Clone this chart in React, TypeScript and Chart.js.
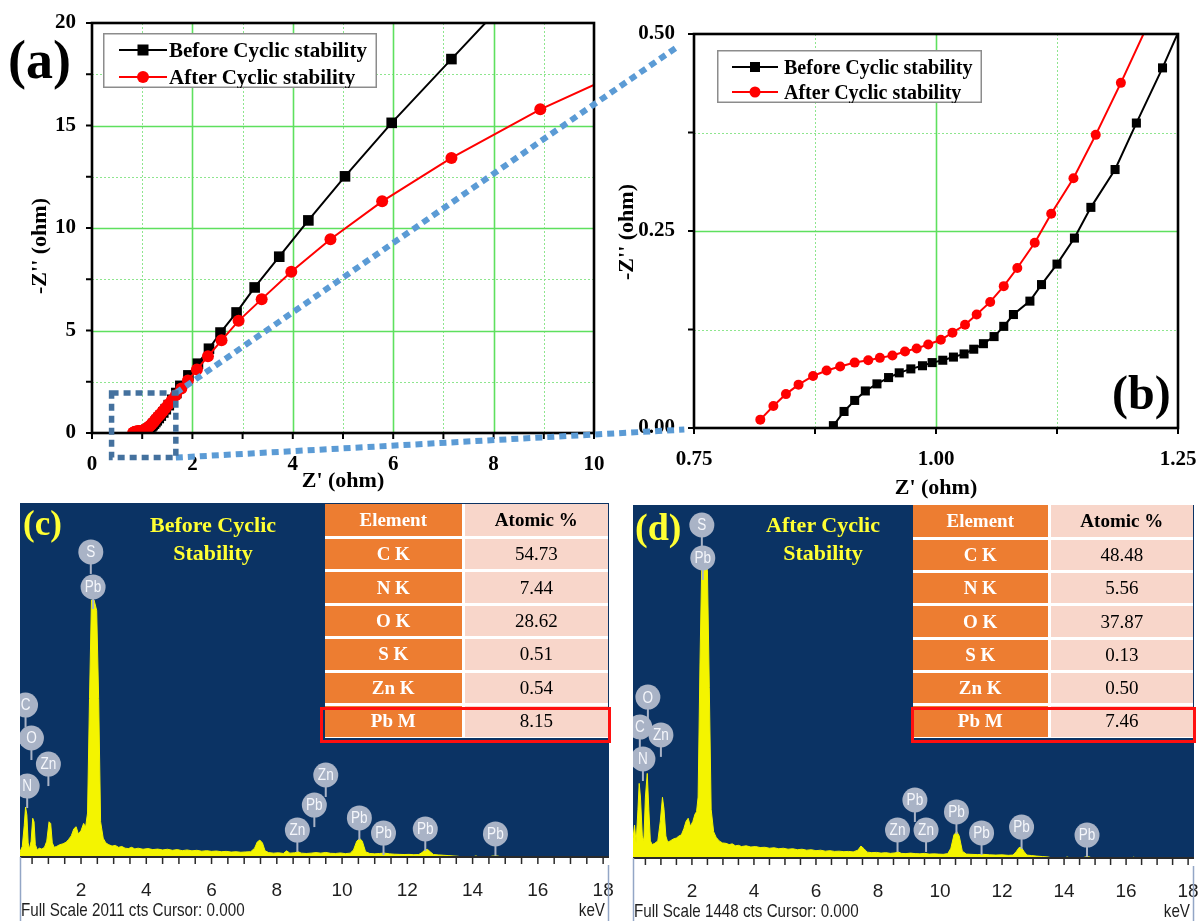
import React, { useEffect, useRef } from 'react';
import { Chart, registerables } from 'chart.js';

Chart.register(...registerables);

const SERIF = "'Liberation Serif', 'Times New Roman', serif";
const NARROW = "'Liberation Sans Narrow', 'Liberation Sans', 'Arial', sans-serif";

// ---------------- Nyquist (EIS) data ----------------
const seriesNames = ['Before Cyclic stability', 'After Cyclic stability'];

const beforeX = [0.894, 0.905, 0.916, 0.927, 0.939, 0.951, 0.962, 0.974, 0.986, 0.996, 1.007, 1.018, 1.029, 1.039, 1.049, 1.06, 1.07, 1.08, 1.097, 1.109, 1.125, 1.143, 1.16, 1.185, 1.207, 1.234, 1.262, 1.29, 1.33, 1.37, 1.42, 1.47, 1.53, 1.6, 1.68, 1.76, 1.92, 2.11, 2.33, 2.56, 2.88, 3.24, 3.73, 4.31, 5.04, 5.97, 7.16, 8.45];
const beforeY = [0.003, 0.021, 0.035, 0.047, 0.056, 0.064, 0.07, 0.075, 0.079, 0.083, 0.086, 0.09, 0.094, 0.1, 0.107, 0.116, 0.129, 0.144, 0.161, 0.182, 0.208, 0.241, 0.28, 0.328, 0.387, 0.457, 0.535, 0.62, 0.73, 0.85, 1.0, 1.16, 1.36, 1.62, 1.95, 2.3, 2.81, 3.38, 4.11, 4.9, 5.88, 7.1, 8.6, 10.37, 12.52, 15.13, 18.24, 21.6];

const afterX = [0.8185, 0.832, 0.845, 0.858, 0.873, 0.887, 0.901, 0.916, 0.93, 0.942, 0.955, 0.968, 0.98, 0.992, 1.005, 1.017, 1.03, 1.042, 1.056, 1.07, 1.084, 1.102, 1.119, 1.142, 1.165, 1.191, 1.22, 1.25, 1.28, 1.32, 1.36, 1.41, 1.46, 1.52, 1.59, 1.67, 1.78, 1.91, 2.09, 2.31, 2.58, 2.92, 3.38, 3.97, 4.75, 5.78, 7.16, 8.93, 11.0];
const afterY = [0.0106, 0.028, 0.043, 0.055, 0.066, 0.073, 0.078, 0.083, 0.086, 0.089, 0.092, 0.097, 0.101, 0.106, 0.112, 0.121, 0.131, 0.144, 0.16, 0.18, 0.203, 0.235, 0.272, 0.317, 0.372, 0.438, 0.515, 0.6, 0.69, 0.8, 0.92, 1.06, 1.21, 1.39, 1.6, 1.84, 2.17, 2.56, 3.1, 3.74, 4.52, 5.47, 6.53, 7.87, 9.45, 11.3, 13.42, 15.79, 18.1];

// panel (a) axes
const aXRange = [0, 10];
const aYRange = [0, 20];
const aXMajor = [2, 4, 6, 8];
const aXMinor = [1, 3, 5, 7, 9];
const aYMajor = [5, 10, 15];
const aYMinor = [2.5, 7.5, 12.5, 17.5];
const aXTickMarks = [0, 1, 2, 3, 4, 5, 6, 7, 8, 9, 10];
const aYTickMarks = [0, 2.5, 5, 7.5, 10, 12.5, 15, 17.5, 20];

// panel (b) axes
const bXRange = [0.75, 1.25];
const bYRange = [0, 0.5];
const bXMajor = [1.0];
const bXMinor = [0.875, 1.125];
const bYMajor = [0.25];
const bYMinor = [0.125, 0.375];
const bXTickMarks = [0.75, 0.875, 1.0, 1.125, 1.25];
const bYTickMarks = [0, 0.125, 0.25, 0.375, 0.5];

// zoom box in (a) data units and connector targets in (b) data units
const zoomBoxX = [0.39, 1.67];
const zoomBoxY = [-1.2, 1.95];
const connectTopB = [0.7327, 0.4836];
const connectBottomB = [0.74, -0.002];

// ---------------- EDS spectra ----------------
const edsBeforeKeV = [0.13, 0.2, 0.26, 0.3, 0.34, 0.38, 0.42, 0.47, 0.52, 0.56, 0.6, 0.66, 0.72, 0.8, 0.88, 0.95, 1.02, 1.07, 1.12, 1.18, 1.25, 1.35, 1.45, 1.55, 1.62, 1.7, 1.78, 1.85, 1.92, 2.0, 2.08, 2.14, 2.2, 2.26, 2.32, 2.4, 2.48, 2.54, 2.6, 2.68, 2.76, 2.85, 2.95, 3.05, 3.15, 3.25, 3.35, 3.45, 3.55, 3.65, 3.75, 3.9, 4.05, 4.2, 4.35, 4.5, 4.65, 4.8, 4.95, 5.1, 5.25, 5.4, 5.55, 5.7, 5.85, 6.0, 6.15, 6.3, 6.45, 6.6, 6.75, 6.9, 7.05, 7.2, 7.32, 7.4, 7.48, 7.56, 7.64, 7.75, 7.9, 8.05, 8.2, 8.3, 8.4, 8.55, 8.65, 8.75, 8.9, 9.05, 9.2, 9.35, 9.5, 9.65, 9.8, 9.95, 10.1, 10.25, 10.35, 10.45, 10.54, 10.62, 10.72, 10.85, 11.0, 11.15, 11.3, 11.45, 11.6, 11.75, 11.9, 12.05, 12.2, 12.35, 12.45, 12.55, 12.62, 12.7, 12.8, 12.95, 13.1, 13.25, 13.4, 13.55, 13.7, 14.0, 14.1, 14.2, 14.5, 14.6, 14.75, 14.9, 18.18];
const edsBeforeCts = [30, 60, 180, 284, 240, 80, 45, 90, 220, 200, 70, 40, 50, 45, 55, 90, 200, 190, 80, 55, 60, 70, 75, 85, 100, 120, 160, 172, 130, 150, 191, 170, 250, 900, 1460, 1460, 1400, 900, 200, 107, 80, 70, 62, 66, 55, 60, 50, 48, 55, 46, 50, 44, 48, 42, 45, 40, 44, 38, 42, 36, 40, 35, 38, 33, 36, 32, 34, 30, 32, 28, 30, 27, 29, 30, 50, 85, 96, 80, 35, 25, 22, 24, 20, 35, 22, 24, 30, 22, 20, 22, 25, 22, 26, 21, 20, 23, 19, 22, 40, 90, 106, 90, 30, 20, 18, 20, 22, 18, 16, 15, 14, 15, 13, 14, 25, 42, 43, 30, 14, 12, 10, 8, 6, 4, 0, 0, 6, 0, 0, 5, 6, 0, 0];

const edsAfterKeV = [0.1, 0.15, 0.2, 0.26, 0.3, 0.34, 0.4, 0.45, 0.5, 0.56, 0.61, 0.66, 0.72, 0.8, 0.9, 0.98, 1.05, 1.1, 1.16, 1.22, 1.3, 1.4, 1.5, 1.58, 1.66, 1.74, 1.81, 1.88, 1.95, 2.03, 2.1, 2.15, 2.2, 2.26, 2.32, 2.42, 2.5, 2.56, 2.62, 2.7, 2.78, 2.88, 2.98, 3.1, 3.2, 3.3, 3.4, 3.5, 3.6, 3.75, 3.9, 4.05, 4.2, 4.35, 4.5, 4.65, 4.8, 4.95, 5.1, 5.25, 5.4, 5.55, 5.7, 5.85, 6.0, 6.15, 6.3, 6.45, 6.6, 6.75, 6.9, 7.05, 7.2, 7.35, 7.45, 7.55, 7.65, 7.8, 7.95, 8.1, 8.25, 8.4, 8.55, 8.65, 8.75, 8.9, 9.05, 9.2, 9.35, 9.5, 9.65, 9.8, 9.95, 10.1, 10.25, 10.35, 10.45, 10.54, 10.62, 10.72, 10.85, 11.0, 11.2, 11.4, 11.6, 11.8, 12.0, 12.2, 12.35, 12.45, 12.55, 12.62, 12.7, 12.8, 12.95, 13.1, 13.3, 13.5, 13.6, 14.0, 14.1, 14.2, 14.6, 14.7, 14.8, 14.9, 16.2, 16.25, 16.3, 18.19];
const edsAfterCts = [80, 135, 60, 200, 306, 250, 90, 70, 250, 347, 200, 70, 55, 60, 70, 150, 249, 200, 90, 65, 70, 78, 82, 90, 95, 120, 150, 163, 130, 150, 180, 190, 250, 800, 1230, 1230, 1180, 700, 200, 108, 85, 70, 62, 60, 55, 58, 50, 52, 47, 50, 45, 47, 43, 44, 40, 42, 38, 40, 36, 38, 34, 36, 32, 34, 30, 32, 28, 30, 27, 28, 26, 27, 25, 32, 49, 38, 24, 22, 23, 20, 22, 19, 21, 25, 19, 18, 20, 18, 17, 19, 16, 17, 16, 15, 18, 40, 95, 108, 90, 28, 16, 15, 14, 15, 13, 12, 13, 11, 12, 25, 43, 44, 28, 12, 10, 8, 6, 4, 0, 0, 4, 0, 0, 5, 5, 0, 0, 4, 0, 0];

const edsBeforeRange = [0.13, 18.18];
const edsAfterRange = [0.1, 18.19];
const edsBeforeFullScale = 2011;
const edsAfterFullScale = 1448;

// peak label bubbles (element, keV, counts)
const beforePeakEl = ['S', 'Pb', 'C', 'O', 'Zn', 'N', 'Zn', 'Pb', 'Zn', 'Pb', 'Pb', 'Pb', 'Pb'];
const beforePeakKeV = [2.3, 2.37, 0.3, 0.48, 1.0, 0.35, 9.5, 9.15, 8.63, 10.53, 11.27, 12.55, 14.7];
const beforePeakCts = [1733, 1534, 863, 676, 528, 403, 466, 295, 153, 222, 136, 159, 131];

const afterPeakEl = ['S', 'Pb', 'O', 'C', 'Zn', 'N', 'Pb', 'Zn', 'Zn', 'Pb', 'Pb', 'Pb', 'Pb'];
const afterPeakKeV = [2.32, 2.35, 0.58, 0.32, 1.0, 0.42, 9.19, 8.63, 9.55, 10.53, 11.34, 12.63, 14.74];
const afterPeakCts = [1366, 1231, 660, 537, 505, 406, 238, 115, 115, 189, 103, 127, 94];

// composition tables
const tableHeader = ['Element', 'Atomic %'];
const tableElements = ['C K', 'N K', 'O K', 'S K', 'Zn K', 'Pb M'];
const atomicBefore = ['54.73', '7.44', '28.62', '0.51', '0.54', '8.15'];
const atomicAfter = ['48.48', '5.56', '37.87', '0.13', '0.50', '7.46'];

// ---------------- helpers ----------------
const fitTo = (n: number) => (s: any) => {
  if (s.isHorizontal()) s.height = n;
  else s.width = n;
  s.paddingLeft = 0;
  s.paddingRight = 0;
  s.paddingTop = 0;
  s.paddingBottom = 0;
};

type FrameCfg = {
  xMajor: number[]; xMinor: number[]; yMajor: number[]; yMinor: number[];
  xTicks: number[]; yTicks: number[];
  xTitle: string; yTitle: string; xTitleDy: number; yTitleDx: number; yTitleDy: number;
};

function framePlugin(cfg: FrameCfg) {
  return {
    id: 'eisFrame',
    beforeDatasetsDraw(chart: any) {
      const { ctx, chartArea: a, scales } = chart;
      const sx = scales.x, sy = scales.y;
      ctx.save();
      ctx.beginPath();
      ctx.rect(a.left, a.top, a.right - a.left, a.bottom - a.top);
      ctx.clip();
      const vline = (v: number) => {
        const p = Math.round(sx.getPixelForValue(v)) + 0.5;
        ctx.beginPath(); ctx.moveTo(p, a.top); ctx.lineTo(p, a.bottom); ctx.stroke();
      };
      const hline = (v: number) => {
        const p = Math.round(sy.getPixelForValue(v)) + 0.5;
        ctx.beginPath(); ctx.moveTo(a.left, p); ctx.lineTo(a.right, p); ctx.stroke();
      };
      ctx.strokeStyle = '#8ee68e';
      ctx.lineWidth = 1;
      ctx.setLineDash([2, 2]);
      cfg.xMinor.forEach(vline);
      cfg.yMinor.forEach(hline);
      ctx.setLineDash([]);
      ctx.strokeStyle = '#5ee05e';
      ctx.lineWidth = 1.6;
      cfg.xMajor.forEach(vline);
      cfg.yMajor.forEach(hline);
      ctx.restore();
    },
    afterDatasetsDraw(chart: any) {
      const { ctx, chartArea: a, scales } = chart;
      const sx = scales.x, sy = scales.y;
      ctx.save();
      ctx.strokeStyle = '#000';
      ctx.lineWidth = 2;
      cfg.xTicks.forEach((v) => {
        const p = sx.getPixelForValue(v);
        ctx.beginPath(); ctx.moveTo(p, a.bottom); ctx.lineTo(p, a.bottom + 6); ctx.stroke();
      });
      cfg.yTicks.forEach((v) => {
        const p = sy.getPixelForValue(v);
        ctx.beginPath(); ctx.moveTo(a.left, p); ctx.lineTo(a.left - 6, p); ctx.stroke();
      });
      ctx.lineWidth = 2.6;
      ctx.strokeRect(a.left, a.top, a.right - a.left, a.bottom - a.top);
      ctx.fillStyle = '#000';
      ctx.font = `bold 22px ${SERIF}`;
      ctx.textAlign = 'center';
      ctx.textBaseline = 'middle';
      ctx.fillText(cfg.xTitle, (a.left + a.right) / 2, a.bottom + cfg.xTitleDy);
      ctx.translate(a.left - cfg.yTitleDx, (a.top + a.bottom) / 2 + cfg.yTitleDy);
      ctx.rotate(-Math.PI / 2);
      ctx.fillText(cfg.yTitle, 0, 0);
      ctx.restore();
    },
  };
}

type EdsCfg = { el: string[]; keV: number[]; cts: number[]; footer: string; unit: string };

function edsPlugin(cfg: EdsCfg) {
  return {
    id: 'edsDecor',
    beforeDatasetsDraw(chart: any) {
      const { ctx, chartArea: a } = chart;
      ctx.save();
      ctx.fillStyle = '#0b3364';
      ctx.fillRect(a.left, a.top, a.right - a.left, a.bottom - a.top);
      ctx.restore();
    },
    afterDatasetsDraw(chart: any) {
      const { ctx, chartArea: a, scales } = chart;
      const sx = scales.x, sy = scales.y;
      ctx.save();
      ctx.beginPath();
      ctx.rect(a.left, a.top, a.right - a.left, a.bottom - a.top);
      ctx.clip();
      const bubble = '#a9b3c6';
      cfg.el.forEach((el, i) => {
        const cx = sx.getPixelForValue(cfg.keV[i]);
        const cy = sy.getPixelForValue(cfg.cts[i]);
        ctx.strokeStyle = bubble;
        ctx.lineWidth = 2;
        ctx.beginPath(); ctx.moveTo(cx, cy + 10); ctx.lineTo(cx, cy + 22); ctx.stroke();
        ctx.fillStyle = bubble;
        ctx.beginPath(); ctx.arc(cx, cy, 12.5, 0, Math.PI * 2); ctx.fill();
        ctx.fillStyle = '#f4f6fb';
        ctx.font = `16px ${NARROW}`;
        ctx.textAlign = 'center';
        ctx.textBaseline = 'middle';
        ctx.save();
        ctx.translate(cx, cy + 1);
        ctx.scale(0.85, 1);
        ctx.fillText(el, 0, 0);
        ctx.restore();
      });
      ctx.restore();

      ctx.save();
      ctx.strokeStyle = '#2a2a2a';
      ctx.lineWidth = 2;
      ctx.beginPath(); ctx.moveTo(a.left, a.bottom); ctx.lineTo(a.right, a.bottom); ctx.stroke();
      ctx.lineWidth = 1.5;
      sx.ticks.forEach((t: any) => {
        const p = sx.getPixelForValue(t.value);
        ctx.beginPath(); ctx.moveTo(p, a.bottom); ctx.lineTo(p, a.bottom + 7); ctx.stroke();
      });
      ctx.strokeStyle = '#93a6c6';
      ctx.lineWidth = 1.5;
      ctx.beginPath(); ctx.moveTo(a.left + 0.5, a.bottom); ctx.lineTo(a.left + 0.5, chart.height); ctx.stroke();
      ctx.beginPath(); ctx.moveTo(a.right - 0.5, a.bottom + 8); ctx.lineTo(a.right - 0.5, chart.height); ctx.stroke();
      ctx.fillStyle = '#1e1e1e';
      ctx.font = `19px ${NARROW}`;
      ctx.textBaseline = 'middle';
      ctx.save();
      ctx.translate(a.left + 1, a.bottom + 54);
      ctx.scale(0.8, 1);
      ctx.textAlign = 'left';
      ctx.fillText(cfg.footer, 0, 0);
      ctx.restore();
      ctx.save();
      ctx.translate(a.right - 4, a.bottom + 54);
      ctx.scale(0.8, 1);
      ctx.textAlign = 'right';
      ctx.fillText(cfg.unit, 0, 0);
      ctx.restore();
      ctx.restore();
    },
  };
}

function eisDatasets(sq: number, cr: number) {
  return [
    {
      label: seriesNames[0],
      data: beforeX.map((x, i) => ({ x, y: beforeY[i] })),
      showLine: true,
      borderColor: '#000000',
      backgroundColor: '#000000',
      borderWidth: 2,
      pointStyle: 'rect',
      pointRadius: sq,
      pointBorderWidth: 0,
      order: 2,
    },
    {
      label: seriesNames[1],
      data: afterX.map((x, i) => ({ x, y: afterY[i] })),
      showLine: true,
      borderColor: '#ff0000',
      backgroundColor: '#ff0000',
      borderWidth: 2,
      pointStyle: 'circle',
      pointRadius: cr,
      pointBorderWidth: 0,
      order: 1,
    },
  ];
}

function eisOptions(o: {
  xr: number[]; yr: number[]; xStep: number; yStep: number; pad: any; yW: number; xH: number;
  yPad: number; fmt: (v: number) => string;
}) {
  const tickFont = { family: SERIF, size: 21, weight: 'bold' as const };
  return {
    animation: false,
    responsive: false,
    maintainAspectRatio: false,
    events: [],
    layout: { padding: o.pad },
    plugins: { legend: { display: false }, tooltip: { enabled: false } },
    scales: {
      x: {
        type: 'linear', min: o.xr[0], max: o.xr[1], afterFit: fitTo(o.xH),
        grid: { display: false }, border: { display: false },
        ticks: { stepSize: o.xStep, color: '#000', font: tickFont, padding: 11, maxRotation: 0, callback: (v: any) => o.fmt(Number(v)) },
      },
      y: {
        type: 'linear', min: o.yr[0], max: o.yr[1], afterFit: fitTo(o.yW),
        grid: { display: false }, border: { display: false },
        ticks: { stepSize: o.yStep, color: '#000', font: tickFont, padding: o.yPad, callback: (v: any) => o.fmt(Number(v)) },
      },
    },
  } as any;
}

function edsConfig(keV: number[], cts: number[], range: number[], full: number, pad: any, xH: number, cfg: EdsCfg) {
  return {
    type: 'scatter',
    data: {
      datasets: [{
        data: keV.map((x, i) => ({ x, y: cts[i] })),
        showLine: true,
        fill: 'origin',
        borderColor: '#f4f400',
        backgroundColor: '#f4f400',
        borderWidth: 1,
        pointRadius: 0,
        tension: 0,
      }],
    },
    options: {
      animation: false,
      responsive: false,
      maintainAspectRatio: false,
      events: [],
      layout: { padding: pad },
      plugins: { legend: { display: false }, tooltip: { enabled: false } },
      scales: {
        x: {
          type: 'linear', min: range[0], max: range[1], afterFit: fitTo(xH),
          grid: { display: false }, border: { display: false },
          ticks: {
            stepSize: 0.5, includeBounds: false, autoSkip: false, maxRotation: 0, minRotation: 0,
            color: '#1e1e1e', font: { family: NARROW, size: 19 }, padding: 14,
            callback: (v: any) => {
              const n = Number(v);
              return n > 0 && Math.abs(n / 2 - Math.round(n / 2)) < 1e-6 ? String(Math.round(n)) : '';
            },
          },
        },
        y: { display: false, min: 0, max: full },
      },
    },
    plugins: [edsPlugin(cfg)],
  } as any;
}

function Legend(p: { left: number; top: number; w: number; h: number; rows: number[]; x1: number; x2: number; tx: number; fs: number; sq: number; cr: number }) {
  const mid = (p.x1 + p.x2) / 2;
  return (
    <svg style={{ position: 'absolute', left: p.left, top: p.top }} width={p.w} height={p.h}>
      <rect x={0.75} y={0.75} width={p.w - 1.5} height={p.h - 1.5} fill="#fff" stroke="#8c8c8c" strokeWidth={1.5} />
      <line x1={p.x1} x2={p.x2} y1={p.rows[0]} y2={p.rows[0]} stroke="#000" strokeWidth={2} />
      <rect x={mid - p.sq / 2} y={p.rows[0] - p.sq / 2} width={p.sq} height={p.sq} fill="#000" />
      <text x={p.tx} y={p.rows[0]} dominantBaseline="central" fontFamily={SERIF} fontWeight="bold" fontSize={p.fs} fill="#000">{seriesNames[0]}</text>
      <line x1={p.x1} x2={p.x2} y1={p.rows[1]} y2={p.rows[1]} stroke="#ff0000" strokeWidth={2} />
      <circle cx={mid} cy={p.rows[1]} r={p.cr} fill="#ff0000" />
      <text x={p.tx} y={p.rows[1]} dominantBaseline="central" fontFamily={SERIF} fontWeight="bold" fontSize={p.fs} fill="#000">{seriesNames[1]}</text>
    </svg>
  );
}

function EdsTable(p: { left: number; top: number; c1: number; c2: number; rh: number; values: string[]; boxLeft: number; boxW: number }) {
  const rows = [tableHeader, ...tableElements.map((e, i) => [e, p.values[i]])];
  const orange = '#ed7d31';
  const pink = '#f8d6ca';
  return (
    <>
      <div style={{ position: 'absolute', left: p.left, top: p.top, width: p.c1 + p.c2, height: p.rh * rows.length, background: '#fff' }}>
        {rows.map((r, i) => (
          <React.Fragment key={i}>
            <div style={{
              position: 'absolute', left: 0, top: i * p.rh + (i === 0 ? 0 : 1.5), width: p.c1 - 1.5, height: p.rh - (i === 0 ? 1.5 : 3),
              background: orange, color: '#fff', fontFamily: SERIF, fontWeight: 'bold', fontSize: 19,
              display: 'flex', alignItems: 'center', justifyContent: 'center',
            }}>{r[0]}</div>
            <div style={{
              position: 'absolute', left: p.c1 + 1.5, top: i * p.rh + (i === 0 ? 0 : 1.5), width: p.c2 - 1.5, height: p.rh - (i === 0 ? 1.5 : 3),
              background: pink, color: '#000', fontFamily: SERIF, fontWeight: i === 0 ? 'bold' : 'normal', fontSize: 19,
              display: 'flex', alignItems: 'center', justifyContent: 'center',
            }}>{r[1]}</div>
          </React.Fragment>
        ))}
      </div>
      <div style={{
        position: 'absolute', left: p.boxLeft, top: 707, width: p.boxW, height: 36,
        border: '3.5px solid #ff1010', boxSizing: 'border-box',
      }} />
    </>
  );
}

const labelStyle = (left: number, top: number, size: number, color: string): React.CSSProperties => ({
  position: 'absolute', left, top, fontFamily: SERIF, fontWeight: 'bold', fontSize: size,
  lineHeight: 1, color, whiteSpace: 'nowrap',
});

export default function App() {
  const aRef = useRef<HTMLCanvasElement>(null);
  const bRef = useRef<HTMLCanvasElement>(null);
  const cRef = useRef<HTMLCanvasElement>(null);
  const dRef = useRef<HTMLCanvasElement>(null);
  const oRef = useRef<HTMLCanvasElement>(null);

  useEffect(() => {
    Chart.defaults.font.family = SERIF;
    const charts: Chart[] = [];

    const chartA = new Chart(aRef.current!, {
      type: 'scatter',
      data: { datasets: eisDatasets(7.5, 6) as any },
      options: eisOptions({
        xr: aXRange, yr: aYRange, xStep: 2, yStep: 5,
        pad: { left: 0, top: 23, right: 18, bottom: 0 }, yW: 92, xH: 67, yPad: 8,
        fmt: (v) => String(v),
      }),
      plugins: [framePlugin({
        xMajor: aXMajor, xMinor: aXMinor, yMajor: aYMajor, yMinor: aYMinor,
        xTicks: aXTickMarks, yTicks: aYTickMarks,
        xTitle: "Z' (ohm)", yTitle: "-Z'' (ohm)", xTitleDy: 48, yTitleDx: 52, yTitleDy: 18,
      })],
    } as any);
    charts.push(chartA);

    const chartB = new Chart(bRef.current!, {
      type: 'scatter',
      data: { datasets: eisDatasets(6.4, 5) as any },
      options: eisOptions({
        xr: bXRange, yr: bYRange, xStep: 0.25, yStep: 0.25,
        pad: { left: 0, top: 34, right: 20, bottom: 0 }, yW: 94, xH: 72, yPad: 11,
        fmt: (v) => v.toFixed(2),
      }),
      plugins: [framePlugin({
        xMajor: bXMajor, xMinor: bXMinor, yMajor: bYMajor, yMinor: bYMinor,
        xTicks: bXTickMarks, yTicks: bYTickMarks,
        xTitle: "Z' (ohm)", yTitle: "-Z'' (ohm)", xTitleDy: 60, yTitleDx: 67, yTitleDy: 1,
      })],
    } as any);
    charts.push(chartB);

    charts.push(new Chart(cRef.current!, edsConfig(
      edsBeforeKeV, edsBeforeCts, edsBeforeRange, edsBeforeFullScale,
      { left: 20, top: 8, right: 6, bottom: 0 }, 64,
      { el: beforePeakEl, keV: beforePeakKeV, cts: beforePeakCts, footer: `Full Scale ${edsBeforeFullScale} cts Cursor: 0.000`, unit: 'keV' },
    )));

    charts.push(new Chart(dRef.current!, edsConfig(
      edsAfterKeV, edsAfterCts, edsAfterRange, edsAfterFullScale,
      { left: 13, top: 10, right: 4, bottom: 0 }, 63,
      { el: afterPeakEl, keV: afterPeakKeV, cts: afterPeakCts, footer: `Full Scale ${edsAfterFullScale} cts Cursor: 0.000`, unit: 'keV' },
    )));

    // connectors between (a) and (b)
    const ov = oRef.current!;
    const ctx = ov.getContext('2d')!;
    ctx.clearRect(0, 0, ov.width, ov.height);
    const bLeft = 600, bTop = 0;
    const ax = (v: number) => chartA.scales.x.getPixelForValue(v);
    const ay = (v: number) => chartA.scales.y.getPixelForValue(v);
    const bx = (v: number) => bLeft + chartB.scales.x.getPixelForValue(v);
    const by = (v: number) => bTop + chartB.scales.y.getPixelForValue(v);
    const x0 = ax(zoomBoxX[0]), x1 = ax(zoomBoxX[1]);
    const yTop = ay(zoomBoxY[1]), yBot = ay(zoomBoxY[0]);
    ctx.setLineDash([7, 5]);
    ctx.lineWidth = 6;
    ctx.strokeStyle = '#5b9bd5';
    ctx.beginPath(); ctx.moveTo(x1, yTop); ctx.lineTo(bx(connectTopB[0]), by(connectTopB[1])); ctx.stroke();
    ctx.beginPath(); ctx.moveTo(x1, yBot); ctx.lineTo(bx(connectBottomB[0]), by(connectBottomB[1])); ctx.stroke();
    ctx.strokeStyle = '#44719e';
    ctx.lineWidth = 5.5;
    ctx.strokeRect(x0, yTop, x1 - x0, yBot - yTop);

    return () => {
      charts.forEach((c) => c.destroy());
    };
  }, []);

  return (
    <div style={{ position: 'absolute', left: 0, top: 0, width: 1198, height: 921, background: '#fff', overflow: 'hidden' }}>
      <canvas ref={aRef} width={612} height={500} style={{ position: 'absolute', left: 0, top: 0, width: 612, height: 500 }} />
      <canvas ref={bRef} width={598} height={500} style={{ position: 'absolute', left: 600, top: 0, width: 598, height: 500 }} />
      <canvas ref={cRef} width={615} height={426} style={{ position: 'absolute', left: 0, top: 495, width: 615, height: 426 }} />
      <canvas ref={dRef} width={578} height={426} style={{ position: 'absolute', left: 620, top: 495, width: 578, height: 426 }} />

      <Legend left={103} top={33} w={274} h={55} rows={[17, 44]} x1={16} x2={64} tx={66} fs={21} sq={11} cr={6} />
      <Legend left={717} top={50} w={265} h={53} rows={[17, 42]} x1={15} x2={61} tx={67} fs={20} sq={10} cr={5.5} />

      <div style={labelStyle(8, 33, 54, '#000')}>(a)</div>
      <div style={labelStyle(1112, 369, 48, '#000')}>(b)</div>

      <EdsTable left={325} top={504} c1={138} c2={145} rh={33.43} values={atomicBefore} boxLeft={320} boxW={291} />
      <EdsTable left={913} top={505} c1={136} c2={144} rh={33.3} values={atomicAfter} boxLeft={911} boxW={285} />

      <div style={labelStyle(23, 506, 35, '#ffff33')}>(c)</div>
      <div style={labelStyle(635, 508, 38, '#ffff33')}>(d)</div>
      <div style={{ position: 'absolute', left: 113, top: 511, width: 200, textAlign: 'center', fontFamily: SERIF, fontWeight: 'bold', fontSize: 22, lineHeight: '28px', color: '#ffff33' }}>
        Before Cyclic<br />Stability
      </div>
      <div style={{ position: 'absolute', left: 723, top: 511, width: 200, textAlign: 'center', fontFamily: SERIF, fontWeight: 'bold', fontSize: 22, lineHeight: '28px', color: '#ffff33' }}>
        After Cyclic<br />Stability
      </div>

      <canvas ref={oRef} width={1198} height={921} style={{ position: 'absolute', left: 0, top: 0, width: 1198, height: 921, pointerEvents: 'none' }} />
    </div>
  );
}
